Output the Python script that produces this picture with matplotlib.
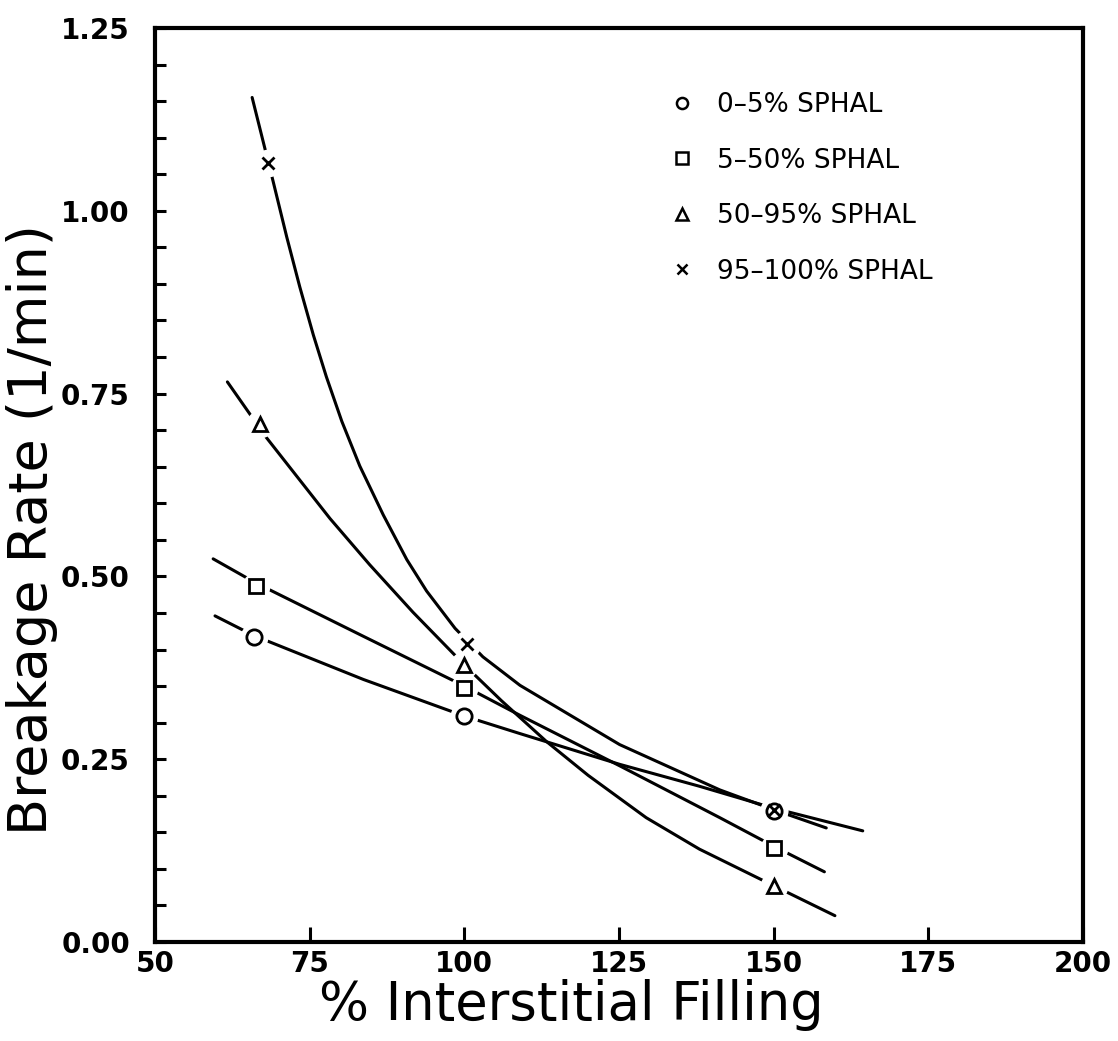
import matplotlib
matplotlib.use("Agg")
import matplotlib.pyplot as plt
from matplotlib.lines import Line2D

# ---------------- data ----------------
series_labels = ["0\u20135% SPHAL", "5\u201350% SPHAL", "50\u201395% SPHAL", "95\u2013100% SPHAL"]
series_markers = ["o", "s", "^", "x"]

# measured points
fill_0_5 = [66.0, 100.0, 150.0]
rate_0_5 = [0.417, 0.309, 0.179]
fill_5_50 = [66.3, 100.0, 150.0]
rate_5_50 = [0.487, 0.347, 0.128]
fill_50_95 = [67.0, 100.0, 150.0]
rate_50_95 = [0.709, 0.379, 0.076]
fill_95_100 = [68.3, 100.4, 150.0]
rate_95_100 = [1.066, 0.408, 0.180]

# fitted curves
curve_x_0_5 = [59.7, 66.0, 83.7, 100.0, 109.0, 125.1, 138.0, 150.0, 164.4]
curve_y_0_5 = [0.446, 0.419, 0.359, 0.309, 0.285, 0.243, 0.213, 0.183, 0.152]
curve_x_5_50 = [59.4, 66.3, 83.7, 100.0, 109.0, 125.1, 141.3, 150.0, 158.2]
curve_y_5_50 = [0.524, 0.491, 0.418, 0.350, 0.310, 0.241, 0.170, 0.131, 0.096]
curve_x_50_95 = [61.7, 67.9, 78.3, 84.7, 91.7, 100.0, 106.0, 113.3, 120.0, 129.4, 138.0, 150.0, 159.9]
curve_y_50_95 = [0.766, 0.691, 0.579, 0.516, 0.451, 0.379, 0.330, 0.274, 0.228, 0.170, 0.127, 0.077, 0.036]
curve_x_95_100 = [65.7, 69.1, 71.3, 73.4, 75.6, 77.7, 80.2, 83.1, 86.9, 90.7, 93.9,
                  98.5, 103.0, 109.0, 125.1, 141.3, 150.0, 158.5]
curve_y_95_100 = [1.155, 1.040, 0.964, 0.896, 0.830, 0.773, 0.712, 0.651, 0.584, 0.523, 0.480,
                  0.429, 0.390, 0.351, 0.270, 0.208, 0.181, 0.156]

x_ticks = [50, 75, 100, 125, 150, 175, 200]
y_ticks = [0.00, 0.25, 0.50, 0.75, 1.00, 1.25]
y_minor_ticks = [0.05, 0.10, 0.15, 0.20, 0.30, 0.35, 0.40, 0.45, 0.55, 0.60, 0.65, 0.70,
                 0.80, 0.85, 0.90, 0.95, 1.05, 1.10, 1.15, 1.20]

points = [(fill_0_5, rate_0_5), (fill_5_50, rate_5_50),
          (fill_50_95, rate_50_95), (fill_95_100, rate_95_100)]
curves = [(curve_x_0_5, curve_y_0_5), (curve_x_5_50, curve_y_5_50),
          (curve_x_50_95, curve_y_50_95), (curve_x_95_100, curve_y_95_100)]

# ---------------- figure ----------------
W, H = 1118, 1041
fig = plt.figure(figsize=(W / 100, H / 100), dpi=100)
ax = fig.add_axes([155 / W, 99 / H, 928 / W, 914 / H])

ax.set_xlim(50, 200)
ax.set_ylim(0, 1.25)

marker_sizes = {"o": 11, "s": 10, "^": 10, "x": 8}

for (cx, cy) in curves:
    ax.plot(cx, cy, color="black", lw=2.2, solid_capstyle="round",
            solid_joinstyle="round", zorder=2)

for (px, py), mk in zip(points, series_markers):
    # white halo that breaks the curve around each symbol
    ax.plot(px, py, ls="none", marker="o", ms=20, mfc="white", mec="none", zorder=3)
for (px, py), mk in zip(points, series_markers):
    ax.plot(px, py, ls="none", marker=mk, ms=marker_sizes[mk], mfc="none",
            mec="black", mew=2.0, zorder=4)

# spines
for side in ["left", "right", "top", "bottom"]:
    ax.spines[side].set_linewidth(3.0)
    ax.spines[side].set_color("black")

ax.set_xticks(x_ticks)
ax.set_xticklabels([str(t) for t in x_ticks])
ax.set_yticks(y_ticks)
ax.set_yticklabels([f"{t:.2f}" for t in y_ticks])
ax.set_yticks(y_minor_ticks, minor=True)

for lbl in ax.get_xticklabels() + ax.get_yticklabels():
    lbl.set_fontfamily("DejaVu Sans")
    lbl.set_fontweight("bold")
    lbl.set_fontsize(20)

ax.tick_params(axis="y", which="both", direction="in", length=8, width=2.2,
               left=True, right=False, pad=18)
ax.tick_params(axis="x", which="major", direction="in", length=11, width=2.2,
               bottom=True, top=False, pad=6)

ax.set_xlabel("% Interstitial Filling", family="DejaVu Sans", size=38)
ax.set_ylabel("Breakage Rate (1/min)", family="DejaVu Sans", size=39)
ax.xaxis.set_label_coords(0.449, -0.040)
ax.yaxis.set_label_coords(-0.1045, 0.451)

# legend
handles = [Line2D([], [], ls="none", marker=mk, ms=(8 if mk != "x" else 7),
                  mfc="none", mec="black", mew=1.8) for mk in series_markers]
leg = ax.legend(handles, series_labels, loc="upper left",
                bbox_to_anchor=(668.8 / W, 1 - 92 / H), bbox_transform=fig.transFigure,
                frameon=False, borderpad=0, borderaxespad=0,
                handlelength=1.0, handletextpad=0.83, labelspacing=1.12,
                prop=dict(family="DejaVu Sans", size=19))

fig.savefig("out.png", dpi=100)
